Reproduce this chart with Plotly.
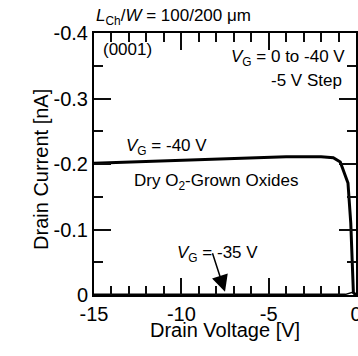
import plotly.graph_objects as go

# Data
vd_40 = [-15, -12, -9, -6, -4, -2, -1.3, -0.9, -0.46, -0.3, -0.15, -0.05, 0]
id_40 = [-0.201, -0.204, -0.207, -0.210, -0.211, -0.211, -0.2095, -0.203, -0.171, -0.11, -0.004, -0.001, 0]
vd_35 = [-15, -10, -5, -1, -0.6, -0.2, 0]
id_35 = [-0.001, -0.001, -0.001, -0.001, -0.001, -0.004, 0]

x_ticks = [-15, -10, -5, 0]
x_ticktext = ["-15", "-10", "-5", "0"]
y_ticks = [-0.4, -0.3, -0.2, -0.1, 0]
y_ticktext = ["-0.4", "-0.3", "-0.2", "-0.1", "0"]

FONT = "Liberation Sans, Arial, sans-serif"
TICKC = "#0d0d0d"

fig = go.Figure()
fig.add_trace(go.Scatter(x=vd_35, y=id_35, mode="lines",
                         line=dict(color="black", width=1.5)))
fig.add_trace(go.Scatter(x=vd_40, y=id_40, mode="lines",
                         line=dict(color="black", width=3)))

axis_common = dict(showgrid=False, zeroline=False, showline=True, linecolor="black",
                   linewidth=2, mirror="ticks", ticks="inside", ticklen=17,
                   tickwidth=1.5, tickcolor=TICKC, automargin=False,
                   ticklabeloverflow="allow",
                   tickfont=dict(family=FONT, size=20, color="black"))

fig.update_xaxes(range=[-15, 0], tickvals=x_ticks, ticktext=x_ticktext,
                 minor=dict(dtick=1, ticks="inside", ticklen=9, tickwidth=1.5, tickcolor=TICKC),
                 **axis_common)
fig.update_yaxes(range=[0, -0.4], tickvals=y_ticks, ticktext=y_ticktext,
                 minor=dict(dtick=0.05, ticks="inside", ticklen=9, tickwidth=1.5, tickcolor=TICKC),
                 **axis_common)

afont = dict(family=FONT, size=17, color="black")
tfont = dict(family=FONT, size=20, color="black")
ann = [
    dict(x=0.5, y=-0.183, xref="paper", yref="paper", text="Drain Voltage [V]",
         showarrow=False, font=tfont),
    dict(x=-0.252, y=0.481, xref="paper", yref="paper", text="Drain Current [nA]",
         showarrow=False, font=tfont, textangle=-90),
    dict(x=0, y=1.0, xref="paper", yref="paper", yanchor="bottom", xanchor="left", yshift=3,
         text="<i>L</i><sub>Ch</sub>/<i>W</i> = 100/200 μm", showarrow=False, font=afont),
    dict(x=-14.6, y=-0.375, text="(0001)", showarrow=False, font=afont, xanchor="left"),
    dict(x=-0.5, y=-0.362, text="<i>V</i><sub>G</sub> = 0 to -40 V", showarrow=False, font=afont, xanchor="right"),
    dict(x=-0.7, y=-0.328, text="-5 V Step", showarrow=False, font=afont, xanchor="right"),
    dict(x=-13.3, y=-0.226, text="<i>V</i><sub>G</sub> = -40 V", showarrow=False, font=afont, xanchor="left"),
    dict(x=-12.8, y=-0.172, text="Dry O<sub>2</sub>-Grown Oxides", showarrow=False, font=afont, xanchor="left"),
    dict(x=-10.35, y=-0.063, text="<i>V</i><sub>G</sub> = -35 V", showarrow=False, font=afont, xanchor="left"),
    dict(x=-7.5, y=-0.005, ax=-13, ay=-40, text="", showarrow=True, arrowhead=2,
         arrowsize=2.2, arrowwidth=1.5, arrowcolor="black", standoff=0, startstandoff=0),
]
fig.update_layout(annotations=ann, width=358, height=356, showlegend=False,
                  margin=dict(l=94, r=2, t=33, b=61),
                  plot_bgcolor="white", paper_bgcolor="white")

fig.write_html("out.html")
